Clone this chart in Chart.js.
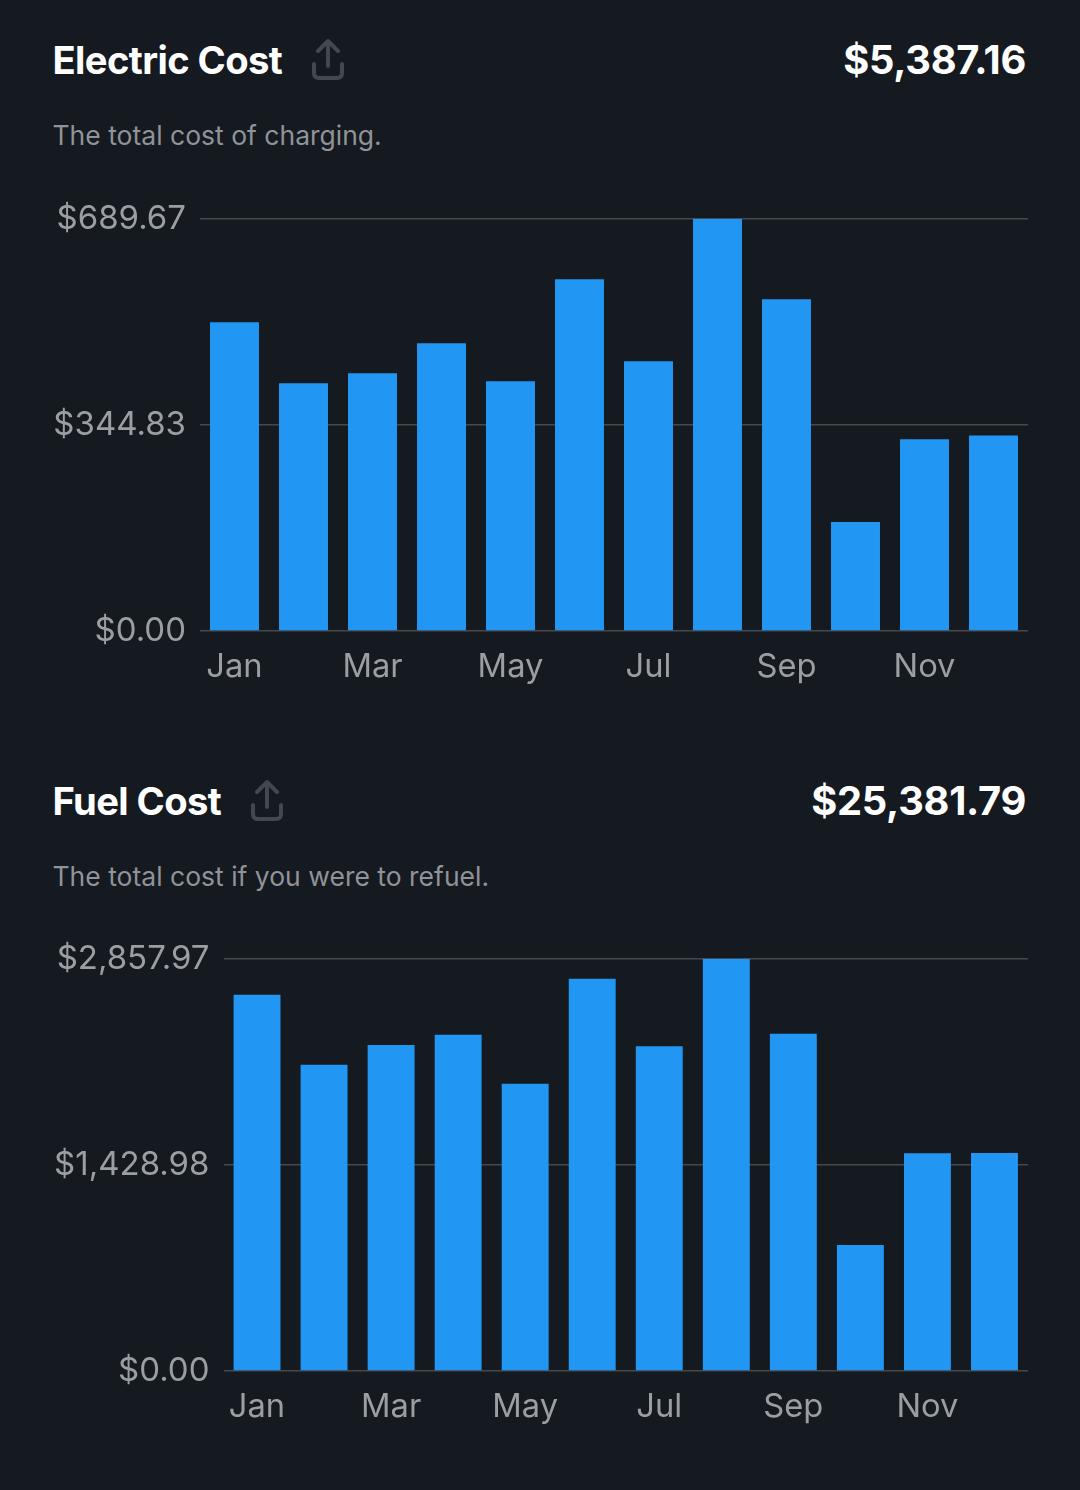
<!DOCTYPE html>
<html>
<head>
<meta charset="utf-8">
<style>
  html, body { margin: 0; padding: 0; background: #151920; }
  body { position: relative; width: 1080px; height: 1490px; overflow: hidden; font-family: Inter, "Noto Sans", sans-serif; }
  .title, .total { position: absolute; color: #fff; font-weight: 700; font-size: 38.2px; line-height: 44px; letter-spacing: -0.6px; white-space: nowrap; }
  .total { right: 54px; font-size: 39.8px; letter-spacing: -0.3px; }
  .title { left: 52.5px; }
  .note { position: absolute; left: 52.5px; color: #909398; font-size: 26.5px; line-height: 34px; white-space: nowrap; }
  .share { position: absolute; width: 34px; height: 44px; }
  .frame { position: absolute; left: 0; width: 1080px; height: 520px; }
</style>
</head>
<body>
  <div class="title" style="top:38px">Electric Cost</div>
  <svg class="share" style="left:311px;top:37px" viewBox="0 0 34 44" fill="none" stroke="#43484e" stroke-width="4" stroke-linecap="round" stroke-linejoin="round"><path d="M17 4V29M7 14L17 4L27 14M3 27V36Q3 41 8 41H26Q31 41 31 36V27"/></svg>
  <div class="total" style="top:38px">$5,387.16</div>
  <div class="note" style="top:118px">The total cost of charging.</div>
  <div class="frame" style="top:185px"><canvas id="electric"></canvas></div>

  <div class="title" style="top:779px">Fuel Cost</div>
  <svg class="share" style="left:250px;top:778px" viewBox="0 0 34 44" fill="none" stroke="#43484e" stroke-width="4" stroke-linecap="round" stroke-linejoin="round"><path d="M17 4V29M7 14L17 4L27 14M3 27V36Q3 41 8 41H26Q31 41 31 36V27"/></svg>
  <div class="total" style="top:779px">$25,381.79</div>
  <div class="note" style="top:859px">The total cost if you were to refuel.</div>
  <div class="frame" style="top:925px"><canvas id="fuel"></canvas></div>

<script src="https://cdn.jsdelivr.net/npm/chart.js@4/dist/chart.umd.min.js"></script>
<script>
const months = ["Jan","Feb","Mar","Apr","May","Jun","Jul","Aug","Sep","Oct","Nov","Dec"];
const electricCost = [516.6,414.6,431.4,481.5,418,588.5,451.4,689.67,555,182.2,321,326.9];
const fuelCost = [2608,2123,2261,2331,1991,2719,2251,2857.97,2338,874,1509,1512];
const electricTicks = [0,344.83,689.67];
const fuelTicks = [0,1428.98,2857.97];

function money(v) {
  return "$" + Number(v).toLocaleString("en-US", { minimumFractionDigits: 2, maximumFractionDigits: 2 });
}

function costChart(id, values, ticks, axisWidth, barShare) {
  return new Chart(document.getElementById(id), {
    type: "bar",
    data: {
      labels: months,
      datasets: [{ data: values, backgroundColor: "#2196f3", borderWidth: 0, barPercentage: barShare, categoryPercentage: 1 }]
    },
    options: {
      responsive: true,
      maintainAspectRatio: false,
      animation: false,
      layout: { padding: { top: 28, right: 52, bottom: 0, left: 0 } },
      plugins: { legend: { display: false }, tooltip: { enabled: false } },
      scales: {
        x: {
          offset: true,
          grid: { display: false },
          border: { display: false },
          afterFit(scale) { scale.height = 74; },
          ticks: {
            color: "#9b9ea2",
            font: { family: "Inter", size: 32.7 },
            padding: 8.5,
            maxRotation: 0,
            autoSkip: false,
            callback(value, index) { return index % 2 === 0 ? months[index] : ""; }
          }
        },
        y: {
          min: ticks[0],
          max: ticks[2],
          afterBuildTicks(scale) { scale.ticks = ticks.map(value => ({ value })); },
          afterFit(scale) { scale.width = axisWidth; },
          grid: { color: "#46494c", lineWidth: 1.5, drawTicks: false },
          border: { display: false },
          ticks: {
            color: "#9b9ea2",
            font: { family: "Inter", size: 33 },
            padding: 14,
            callback: money
          }
        }
      }
    }
  });
}

costChart("electric", electricCost, electricTicks, 200, 0.71);
costChart("fuel", fuelCost, fuelTicks, 223.5, 0.70);
</script>
</body>
</html>
